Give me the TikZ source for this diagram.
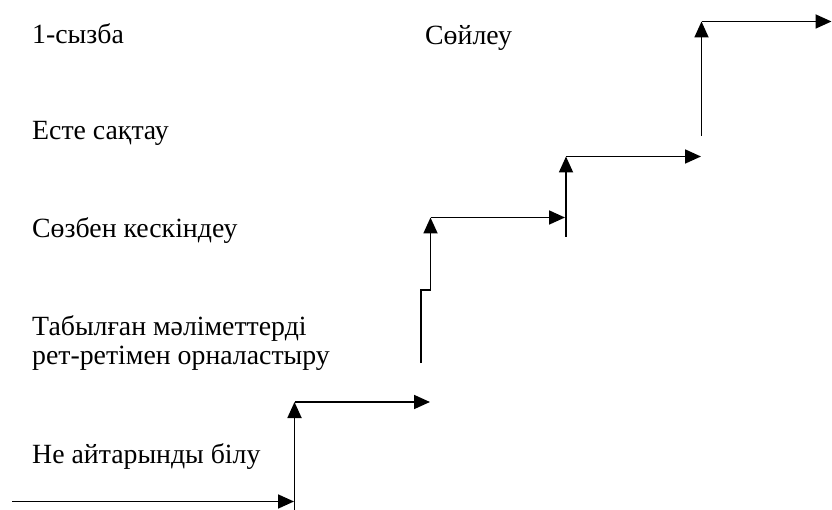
\documentclass[tikz,border=0pt]{standalone}
\usepackage{fontspec}
\setmainfont{Liberation Serif}
\usetikzlibrary{arrows.meta}
\tikzstyle{steptext} = [anchor=base west, inner sep=0pt, font=\fontsize{27.8}{32}\selectfont]
\tikzstyle{stepline} = [line width=1.8pt]
\tikzstyle{arrow} = [line width=1.8pt, -{Triangle[length=16pt,width=14pt]}]

\begin{document}
\begin{tikzpicture}[x=1pt,y=-1pt]
\useasboundingbox (0,0) rectangle (832,510);
% texts
\node (title)[steptext] at (32,44) {1-сызба};
\node (speak)[steptext] at (425,45) {Сөйлеу};
\node (memo)[steptext] at (32,139.5) {Есте сақтау};
\node (descr)[steptext] at (32,237.5) {Сөзбен кескіндеу};
\node (order1)[steptext] at (32,336) {Табылған мәліметтерді};
\node (order2)[steptext] at (32,364) {рет-ретімен орналастыру};
\node (know)[steptext] at (32,463) {Не айтарынды білу};

% step corners
\coordinate (in0) at (12,501.5);
\coordinate (in1) at (294,501.5);
\coordinate (up1b) at (294.5,512);
\coordinate (up1t) at (294.5,402);
\coordinate (rt1) at (430,402);
\coordinate (up2b) at (421,363);
\coordinate (j1) at (421,290);
\coordinate (j2) at (430.5,290);
\coordinate (up2t) at (430.5,217.5);
\coordinate (rt2) at (565,217.5);
\coordinate (up3b) at (566,237);
\coordinate (up3t) at (566,156.5);
\coordinate (rt3) at (701,156.5);
\coordinate (up4b) at (701.5,136);
\coordinate (up4t) at (701.5,21.5);
\coordinate (rt4) at (831.5,21.5);

\draw [arrow] (in0) -- (in1);
\draw [arrow] (up1b) -- (up1t);
\draw [arrow] (up1t) -- (rt1);
\draw [stepline] (up2b) -- (j1) -- (j2);
\draw [arrow] (j2) -- (up2t);
\draw [arrow] (up2t) -- (rt2);
\draw [arrow] (up3b) -- (up3t);
\draw [arrow] (up3t) -- (rt3);
\draw [arrow] (up4b) -- (up4t);
\draw [arrow] (up4t) -- (rt4);

\end{tikzpicture}
\end{document}
